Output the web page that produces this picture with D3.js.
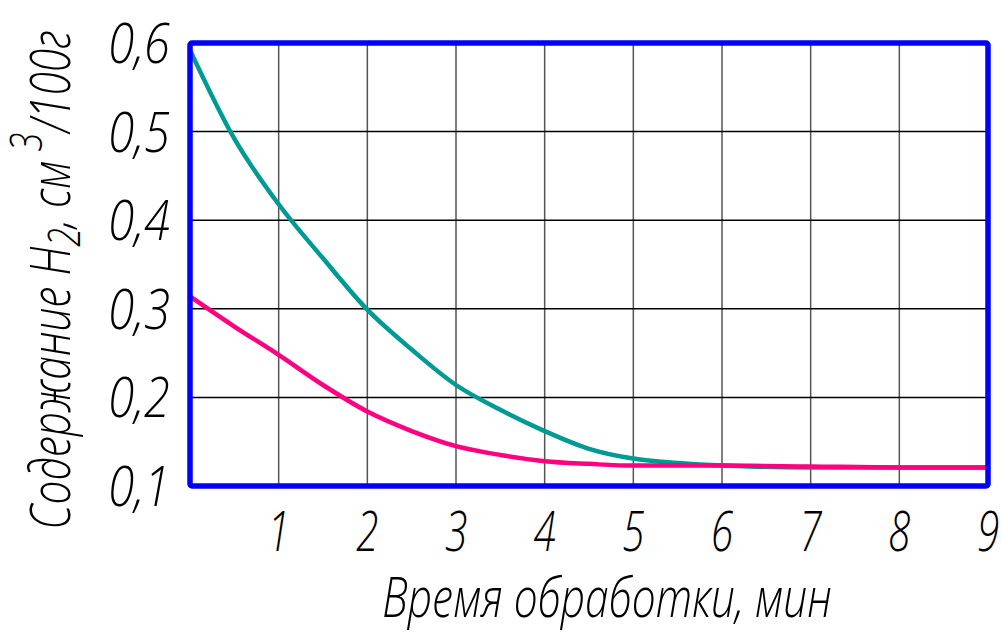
<!DOCTYPE html>
<html>
<head>
<meta charset="utf-8">
<script src="https://cdn.jsdelivr.net/npm/d3@7"></script>
<style>
  html, body { margin: 0; padding: 0; background: #fff; }
  svg { display: block; }
  text { font-family: "Open Sans", "DejaVu Sans", sans-serif; font-style: italic; font-weight: 300; fill: #000; }
</style>
</head>
<body>
<svg id="chart" width="1001" height="632"></svg>
<script>
// Treatment time, minutes
const time = [0, 0.5, 1, 1.5, 2, 2.5, 3, 3.5, 4, 4.5, 5, 5.5, 6, 7, 8, 9];
// Hydrogen content, cm3/100g — upper curve
const h2Upper = [0.592, 0.492, 0.418, 0.357, 0.299, 0.254, 0.214, 0.186, 0.162, 0.142, 0.131, 0.126, 0.123, 0.121, 0.121, 0.121];
// Hydrogen content, cm3/100g — lower curve
const h2Lower = [0.314, 0.280, 0.248, 0.214, 0.184, 0.162, 0.145, 0.135, 0.128, 0.125, 0.123, 0.123, 0.123, 0.122, 0.121, 0.121];
const xTicks = [1, 2, 3, 4, 5, 6, 7, 8, 9];
const yTicks = [0.1, 0.2, 0.3, 0.4, 0.5, 0.6];
const xTitle = "Время обработки, мин";

const svg = d3.select("#chart");
const plotL = 190, plotR = 988, plotT = 43, plotB = 486;

const x = d3.scaleLinear().domain([0, 9]).range([plotL, plotR]);
const y = d3.scaleLinear().domain([0.1, 0.6]).range([plotB, plotT]);

const FS = 56;
const fmt = v => d3.format(".1f")(v).replace(".", ",");

// grid
svg.append("g").selectAll("line").data(xTicks.slice(0, -1)).join("line")
  .attr("x1", d => x(d)).attr("x2", d => x(d))
  .attr("y1", plotT).attr("y2", plotB)
  .attr("stroke", "#555").attr("stroke-width", 1.5);
svg.append("g").selectAll("line").data(yTicks.slice(1, -1)).join("line")
  .attr("x1", plotL).attr("x2", plotR)
  .attr("y1", d => y(d)).attr("y2", d => y(d))
  .attr("stroke", "#000").attr("stroke-width", 1.5);

// curves
const line = d3.line().x((d, i) => x(time[i])).y(d => y(d)).curve(d3.curveMonotoneX);
svg.append("path").datum(h2Upper).attr("d", line)
  .attr("fill", "none").attr("stroke", "#009a94").attr("stroke-width", 4.5).attr("stroke-linecap", "round");
svg.append("path").datum(h2Lower).attr("d", line)
  .attr("fill", "none").attr("stroke", "#ff0080").attr("stroke-width", 4.5).attr("stroke-linecap", "round");

// frame
svg.append("rect")
  .attr("x", plotL).attr("y", plotT).attr("width", plotR - plotL).attr("height", plotB - plotT)
  .attr("fill", "none").attr("stroke", "#0000ff").attr("stroke-width", 5.5).attr("rx", 2);

// y tick labels
svg.append("g").selectAll("text").data(yTicks).join("text")
  .attr("transform", d => `translate(170,${y(d) + 20}) scale(0.84,1)`)
  .attr("text-anchor", "end").attr("font-size", FS)
  .text(fmt);

// x tick labels
svg.append("g").selectAll("text").data(xTicks).join("text")
  .attr("transform", d => `translate(${x(d)},551) scale(0.72,1)`)
  .attr("text-anchor", "middle").attr("font-size", FS)
  .text(d => d);

// x axis title
svg.append("text")
  .attr("transform", `translate(607,617) scale(0.76,1)`)
  .attr("text-anchor", "middle").attr("font-size", FS)
  .text(xTitle);

// y axis title
const yt = svg.append("text")
  .attr("transform", `translate(70,280) rotate(-90) scale(0.76,1)`)
  .attr("text-anchor", "middle").attr("font-size", FS);
yt.append("tspan").text("Содержание H");
yt.append("tspan").attr("font-size", FS * 0.8).attr("dy", 10).text("2");
yt.append("tspan").attr("dy", -10).text(", см");
yt.append("tspan").attr("font-size", FS * 0.8).attr("dy", -28).text(" 3");
yt.append("tspan").attr("dy", 28).text("/100г");
</script>
</body>
</html>
